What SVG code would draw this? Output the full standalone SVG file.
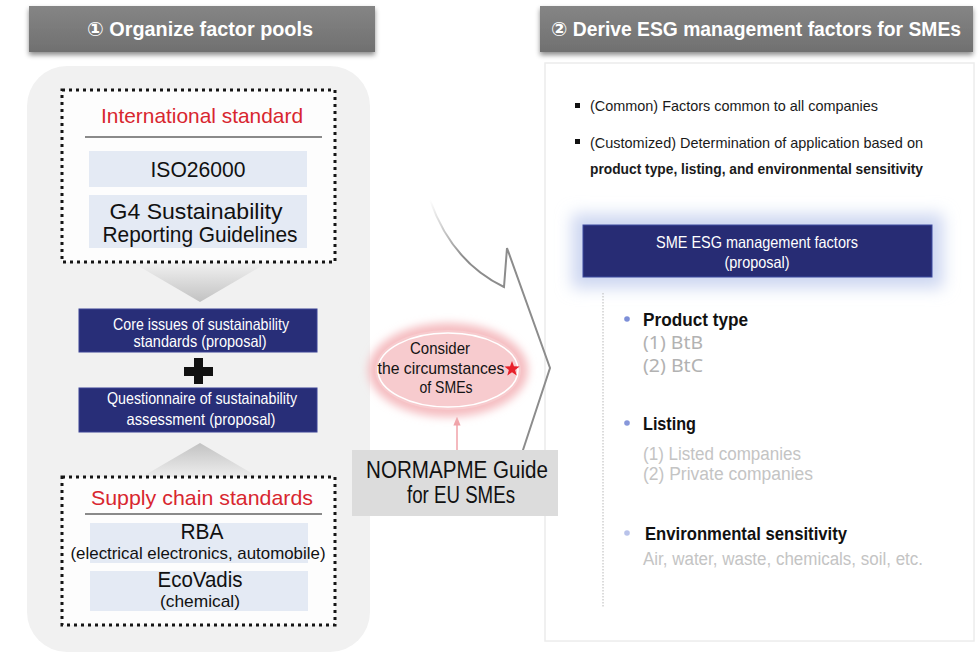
<svg xmlns="http://www.w3.org/2000/svg" width="980" height="657" viewBox="0 0 980 657">
  <style>
    text { font-family: "Liberation Sans", "DejaVu Sans", Arial, sans-serif; }
    .title { fill: #ffffff; font-size: 20px; font-weight: bold; text-anchor: middle; }
    .red { fill: #d8262f; font-size: 21px; text-anchor: middle; }
    .std { fill: #111111; font-size: 22px; text-anchor: middle; }
    .stdSmall { fill: #111111; font-size: 17px; text-anchor: middle; }
    .navyText { fill: #ffffff; font-size: 16.5px; text-anchor: middle; }
    .navy { fill: #282e78; stroke: #3b4396; stroke-width: 1; }
    .lightBox { fill: #e4eaf4; }
    .dotted { fill: #fdfdfd; stroke: #151515; stroke-width: 3; stroke-dasharray: 3 4; }
    .divider { stroke: #8a8a8a; stroke-width: 2; }
    .body { fill: #1a1a1a; font-size: 15px; }
    .head { fill: #111111; font-size: 19px; font-weight: bold; }
    .sub { fill: #c4c4c4; font-size: 18px; }
    .subAlt { fill: #b2b2b2; font-size: 18.5px; font-family: "Noto Sans", "Open Sans", sans-serif; }
    .ellText { fill: #141414; font-size: 17px; text-anchor: middle; }
    .guide { fill: #111111; font-size: 23px; text-anchor: middle; }
  </style>
  <defs>
    <linearGradient id="titleFill" x1="0" y1="0" x2="0" y2="1">
      <stop offset="0" stop-color="#858585"/>
      <stop offset="1" stop-color="#707070"/>
    </linearGradient>
    <linearGradient id="downFill" x1="0" y1="0" x2="0" y2="1">
      <stop offset="0" stop-color="#efefef"/>
      <stop offset="1" stop-color="#c2c2c2"/>
    </linearGradient>
    <linearGradient id="upFill" x1="0" y1="1" x2="0" y2="0">
      <stop offset="0" stop-color="#efefef"/>
      <stop offset="1" stop-color="#c2c2c2"/>
    </linearGradient>
    <linearGradient id="arrowStroke" gradientUnits="userSpaceOnUse" x1="430" y1="200" x2="470" y2="252">
      <stop offset="0" stop-color="#9a9a9a" stop-opacity="0"/>
      <stop offset="1" stop-color="#8c8c8c" stop-opacity="1"/>
    </linearGradient>
    <filter id="shadow" x="-5%" y="-20%" width="110%" height="160%">
      <feDropShadow dx="0" dy="3" stdDeviation="2.5" flood-color="#000000" flood-opacity="0.45"/>
    </filter>
    <filter id="soft" x="-30%" y="-60%" width="160%" height="220%">
      <feGaussianBlur stdDeviation="8"/>
    </filter>
    <filter id="softSmall" x="-30%" y="-60%" width="160%" height="220%">
      <feGaussianBlur stdDeviation="4"/>
    </filter>
    <marker id="pinkHead" viewBox="0 0 10 10" refX="5" refY="5" markerWidth="6" markerHeight="6" orient="auto-start-reverse">
      <path d="M0,1 L10,5 L0,9 Z" fill="#f0a2a8"/>
    </marker>
  </defs>

  <rect width="980" height="657" fill="#ffffff"/>

  <!-- step headers -->
  <g id="header-organize">
    <rect x="29" y="6" width="346" height="46" fill="url(#titleFill)" filter="url(#shadow)"/>
    <text class="title" x="200" y="36" textLength="226" lengthAdjust="spacingAndGlyphs">① Organize factor pools</text>
  </g>
  <g id="header-derive">
    <rect x="540" y="6" width="433" height="46" fill="url(#titleFill)" filter="url(#shadow)"/>
    <text class="title" x="756" y="36" textLength="410" lengthAdjust="spacingAndGlyphs">② Derive ESG management factors for SMEs</text>
  </g>

  <!-- left panel background -->
  <g id="factor-pool-panel">
    <rect x="27" y="66" width="343" height="586" rx="40" fill="#f1f1f1"/>
  </g>

  <!-- right panel background -->
  <g id="sme-panel">
    <rect x="545" y="63" width="429" height="578" fill="#ffffff" stroke="#ececec" stroke-width="1.5"/>
  </g>

  <!-- connectors -->
  <g id="connectors">
    <polygon points="135,264 265,264 200,302" fill="url(#downFill)"/>
    <polygon points="140,478 260,478 200,443" fill="url(#upFill)"/>
    <path d="M430,200 Q452,262 504,287 L507,248 L550,368 L522,453 L516,470" fill="none" stroke="url(#arrowStroke)" stroke-width="2" stroke-linejoin="miter"/>
    <line x1="457" y1="450" x2="457" y2="421" stroke="#f0a2a8" stroke-width="1.5" marker-end="url(#pinkHead)"/>
  </g>

  <!-- international standard -->
  <g id="international-standard">
    <rect class="dotted" x="62" y="90" width="273" height="172"/>
    <text class="red" x="202" y="123" textLength="202" lengthAdjust="spacingAndGlyphs">International standard</text>
    <line class="divider" x1="85" y1="137" x2="322" y2="137"/>
    <rect class="lightBox" x="89" y="151" width="218" height="36"/>
    <text class="std" x="198" y="177" textLength="95" lengthAdjust="spacingAndGlyphs">ISO26000</text>
    <rect class="lightBox" x="89" y="195" width="218" height="53"/>
    <text class="std" x="196" y="219" textLength="173" lengthAdjust="spacingAndGlyphs">G4 Sustainability</text>
    <text class="std" x="200" y="242" textLength="195" lengthAdjust="spacingAndGlyphs">Reporting Guidelines</text>
  </g>

  <!-- core issues -->
  <g id="core-issues">
    <rect class="navy" x="79" y="309" width="238" height="43"/>
    <text class="navyText" x="201" y="330" textLength="176" lengthAdjust="spacingAndGlyphs">Core issues of sustainability</text>
    <text class="navyText" x="200" y="347" textLength="133" lengthAdjust="spacingAndGlyphs">standards (proposal)</text>
  </g>

  <!-- plus sign -->
  <g id="plus">
    <rect x="184" y="367" width="29" height="9" fill="#111111"/>
    <rect x="194" y="358" width="9" height="26" fill="#111111"/>
  </g>

  <!-- questionnaire -->
  <g id="questionnaire">
    <rect class="navy" x="79" y="388" width="238" height="44"/>
    <text class="navyText" x="202" y="404" textLength="190" lengthAdjust="spacingAndGlyphs">Questionnaire of sustainability</text>
    <text class="navyText" x="201" y="425" textLength="149" lengthAdjust="spacingAndGlyphs">assessment (proposal)</text>
  </g>

  <!-- supply chain standards -->
  <g id="supply-chain-standards">
    <rect class="dotted" x="62" y="477" width="273" height="148"/>
    <text class="red" x="202" y="505" textLength="222" lengthAdjust="spacingAndGlyphs">Supply chain standards</text>
    <line class="divider" x1="85" y1="514" x2="322" y2="514"/>
    <rect class="lightBox" x="90" y="523" width="218" height="40"/>
    <text class="std" x="202" y="539" font-size="20" textLength="43" lengthAdjust="spacingAndGlyphs">RBA</text>
    <text class="stdSmall" x="198" y="559" textLength="255" lengthAdjust="spacingAndGlyphs">(electrical electronics, automobile)</text>
    <rect class="lightBox" x="90" y="571" width="218" height="40"/>
    <text class="std" x="200" y="587" font-size="20" textLength="85" lengthAdjust="spacingAndGlyphs">EcoVadis</text>
    <text class="stdSmall" x="200" y="607" textLength="80" lengthAdjust="spacingAndGlyphs">(chemical)</text>
  </g>

  <!-- SME circumstances -->
  <g id="sme-circumstances">
    <ellipse cx="448" cy="370" rx="80" ry="47" fill="#f5bdc1" filter="url(#softSmall)"/>
    <ellipse cx="448" cy="370" rx="73" ry="40" fill="#f7cbce"/>
    <ellipse cx="448" cy="370" rx="70" ry="37" fill="none" stroke="#ffffff" stroke-width="1.6"/>
    <text class="ellText" x="440" y="354" textLength="60" lengthAdjust="spacingAndGlyphs">Consider</text>
    <text class="ellText" x="441" y="374" textLength="127" lengthAdjust="spacingAndGlyphs">the circumstances</text>
    <text class="ellText" x="446" y="393" textLength="53" lengthAdjust="spacingAndGlyphs">of SMEs</text>
    <polygon points="512,361 513.94,366.33 519.61,366.53 515.14,370.02 516.7,375.47 512,372.3 507.3,375.47 508.86,370.02 504.39,366.53 510.06,366.33" fill="#e8202a"/>
  </g>

  <!-- NORMAPME guide -->
  <g id="normapme-guide">
    <rect x="352" y="450" width="206" height="66" fill="#dcdcdc"/>
    <text class="guide" x="457" y="478" textLength="182" lengthAdjust="spacingAndGlyphs">NORMAPME Guide</text>
    <text class="guide" x="461" y="503" textLength="108" lengthAdjust="spacingAndGlyphs">for EU SMEs</text>
  </g>

  <!-- derivation notes -->
  <g id="derivation-notes">
    <rect x="575" y="103" width="5" height="5" fill="#111111"/>
    <text class="body" x="590" y="111" textLength="288" lengthAdjust="spacingAndGlyphs">(Common) Factors common to all companies</text>
    <rect x="575" y="139" width="5" height="5" fill="#111111"/>
    <text class="body" x="590" y="148" textLength="333" lengthAdjust="spacingAndGlyphs">(Customized) Determination of application based on</text>
    <text class="body" x="590" y="174" font-weight="bold" textLength="333" lengthAdjust="spacingAndGlyphs">product type, listing, and environmental sensitivity</text>
  </g>

  <!-- SME ESG management factors -->
  <g id="sme-esg-factors">
    <rect x="572" y="214" width="371" height="74" fill="#cdd7f1" filter="url(#soft)"/>
    <rect x="583" y="225" width="349" height="52" fill="#272c74" stroke="#3c4aa0" stroke-width="1"/>
    <text class="navyText" x="757" y="248" textLength="202" lengthAdjust="spacingAndGlyphs">SME ESG management factors</text>
    <text class="navyText" x="757" y="268" textLength="65" lengthAdjust="spacingAndGlyphs">(proposal)</text>
  </g>

  <!-- factor list -->
  <g id="factor-list">
    <line x1="603" y1="293" x2="603" y2="607" stroke="#b8b8b8" stroke-width="1" stroke-dasharray="1.5 1.5"/>
  </g>

  <g id="product-type">
    <circle cx="627" cy="319" r="2.8" fill="#7d8fd8"/>
    <text class="head" x="643" y="326" textLength="105" lengthAdjust="spacingAndGlyphs">Product type</text>
    <text class="subAlt" x="643" y="349" textLength="60" lengthAdjust="spacingAndGlyphs">(1) BtB</text>
    <text class="subAlt" x="643" y="372" textLength="60" lengthAdjust="spacingAndGlyphs">(2) BtC</text>
  </g>

  <g id="listing">
    <circle cx="627" cy="423" r="2.8" fill="#8797da"/>
    <text class="head" x="643" y="430" textLength="53" lengthAdjust="spacingAndGlyphs">Listing</text>
    <text class="sub" x="643" y="460" textLength="158" lengthAdjust="spacingAndGlyphs">(1) Listed companies</text>
    <text class="sub" x="643" y="480" textLength="170" lengthAdjust="spacingAndGlyphs">(2) Private companies</text>
  </g>

  <g id="environmental-sensitivity">
    <circle cx="627" cy="533" r="2.8" fill="#b9c3ea"/>
    <text class="head" x="645" y="540" textLength="202" lengthAdjust="spacingAndGlyphs">Environmental sensitivity</text>
    <text class="sub" x="643" y="565" textLength="280" lengthAdjust="spacingAndGlyphs">Air, water, waste, chemicals, soil, etc.</text>
  </g>
</svg>
